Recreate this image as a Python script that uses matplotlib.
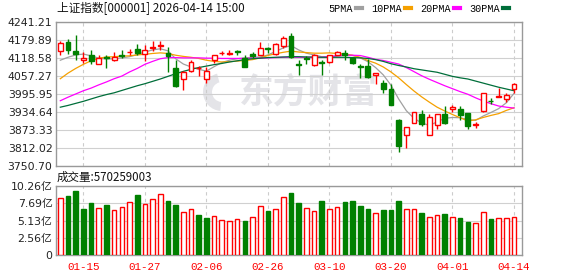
import numpy as np
import matplotlib
matplotlib.use("Agg")
import matplotlib.pyplot as plt
from matplotlib.lines import Line2D
from matplotlib.patches import Wedge

plt.rcParams['font.family'] = ['DejaVu Sans', 'Noto Sans CJK SC']

# daily K-line of 上证指数, 60 trading days up to 2026-04-14
opens = [4140.6, 4172.0, 4142.9, 4111.5, 4127.2, 4098.0, 4120.5, 4109.2, 4127.2, 4137.3,
         4149.6, 4131.7, 4151.9, 4159.7, 4135.0, 4084.6, 4047.5, 4073.3, 4082.4, 4045.3,
         4110.3, 4133.0, 4130.5, 4140.6, 4118.2, 4132.8, 4129.4, 4151.9, 4132.8, 4157.5,
         4191.1, 4095.8, 4116.0, 4093.5, 4103.6, 4103.6, 4127.2, 4136.1, 4115.9, 4091.3,
         4090.2, 4059.9, 4034.1, 4010.4, 3907.5, 3855.8, 3896.2, 3927.7, 3855.8, 3889.5,
         3927.7, 3943.4, 3944.5, 3931.0, 3889.5, 3936.7, 3972.6, 3986.0, 3977.1, 4010.8]
closes = [4168.7, 4144.0, 4131.7, 4115.9, 4107.0, 4118.2, 4117.1, 4120.5, 4125.0, 4139.5,
          4135.0, 4145.1, 4154.1, 4161.9, 4123.8, 4020.6, 4071.1, 4103.6, 4084.6, 4073.3,
          4127.2, 4135.0, 4136.0, 4139.5, 4088.0, 4122.7, 4151.9, 4149.6, 4165.3, 4185.5,
          4120.5, 4093.5, 4113.7, 4129.4, 4101.4, 4127.2, 4138.4, 4129.4, 4099.1, 4088.0,
          4053.2, 4066.6, 4011.6, 3959.0, 3817.6, 3882.8, 3933.3, 3894.0, 3916.5, 3926.6,
          3895.1, 3950.1, 3922.1, 3885.0, 3894.0, 3997.3, 3970.6, 3988.2, 3991.6, 4028.8]
highs = [4174.3, 4182.1, 4196.7, 4137.3, 4144.0, 4129.4, 4129.4, 4138.4, 4144.0, 4149.6,
         4166.4, 4160.8, 4174.3, 4174.3, 4155.2, 4109.2, 4073.3, 4109.2, 4090.2, 4087.9,
         4129.4, 4140.6, 4145.1, 4144.0, 4127.2, 4137.3, 4172.0, 4154.1, 4168.7, 4191.1,
         4202.3, 4110.3, 4123.8, 4131.7, 4109.2, 4129.4, 4140.6, 4144.0, 4120.5, 4098.0,
         4112.6, 4066.6, 4041.9, 4030.0, 3910.8, 3882.8, 3933.3, 3941.2, 3927.7, 3927.7,
         3952.4, 3958.0, 3952.4, 3931.0, 3899.6, 3997.3, 3982.7, 4014.2, 3997.3, 4031.0]
lows = [4127.2, 4131.7, 4109.2, 4101.4, 4095.8, 4095.8, 4084.6, 4107.0, 4118.2, 4129.4,
        4129.4, 4107.0, 4142.9, 4146.2, 4071.1, 4017.3, 4008.3, 4070.0, 4056.6, 4034.1,
        4101.4, 4126.1, 4126.1, 4129.4, 4085.7, 4118.2, 4127.2, 4135.0, 4129.4, 4151.9,
        4118.2, 4059.9, 4095.8, 4090.2, 4059.9, 4101.4, 4126.1, 4110.3, 4095.8, 4050.9,
        4050.9, 4028.5, 3997.1, 3957.0, 3797.4, 3810.9, 3896.2, 3885.0, 3855.8, 3877.2,
        3894.0, 3932.2, 3907.5, 3876.0, 3879.4, 3932.2, 3960.2, 3983.8, 3969.2, 3997.3]
# volume in 亿
volumes = [8.43, 8.77, 9.52, 6.84, 7.73, 6.94, 7.44, 6.64, 7.09, 7.83,
           8.92, 7.58, 8.28, 9.02, 8.03, 7.44, 6.34, 6.79, 5.95, 5.50,
           5.75, 5.16, 5.01, 5.30, 5.06, 5.60, 7.24, 6.54, 6.79, 8.58,
           9.22, 7.73, 6.94, 6.49, 8.03, 6.79, 7.09, 7.88, 8.03, 7.29,
           6.84, 6.20, 6.69, 6.69, 8.03, 6.79, 6.79, 6.25, 5.60, 5.90,
           6.10, 5.60, 5.50, 4.91, 4.71, 6.34, 5.35, 5.45, 5.45, 5.70]
ma5 = [4110, 4120, 4128, 4131, 4125, 4117, 4114, 4115, 4118, 4122,
       4129, 4138, 4145, 4149, 4142, 4115, 4097, 4087, 4079, 4073,
       4088, 4102, 4110, 4115, 4118, 4120, 4121, 4128, 4140, 4152,
       4160, 4145, 4134, 4128, 4122, 4121, 4124, 4129, 4126, 4118,
       4105, 4085, 4060, 4025, 3978, 3938, 3912, 3896, 3888, 3900,
       3912, 3915, 3914, 3908, 3905, 3920, 3932, 3945, 3965, 3997]
ma10 = [4047, 4066, 4082, 4096, 4108, 4117, 4121, 4122, 4124, 4125,
        4128, 4130, 4133, 4135, 4133, 4127, 4123, 4120, 4116, 4110,
        4106, 4104, 4105, 4107, 4109, 4112, 4118, 4126, 4132, 4137,
        4141, 4138, 4136, 4134, 4134, 4135, 4133, 4131, 4127, 4120,
        4109, 4100, 4087, 4070, 4050, 4027, 4005, 3985, 3967, 3950,
        3937, 3925, 3914, 3903, 3907, 3915, 3922, 3928, 3939, 3948]
ma20 = [3972, 3984, 3995, 4006, 4015, 4026, 4036, 4047, 4056, 4070,
        4082, 4096, 4106, 4115, 4119, 4119, 4118, 4118, 4118, 4117,
        4117, 4116, 4116, 4116, 4116, 4117, 4117, 4118, 4119, 4120,
        4120, 4120, 4120, 4119, 4120, 4123, 4125, 4127, 4127, 4126,
        4120, 4113, 4109, 4103, 4097, 4085, 4071, 4057, 4045, 4034,
        4023, 4013, 4003, 3994, 3982, 3971, 3962, 3954, 3950, 3947]
ma30 = [3950, 3956, 3963, 3970, 3978, 3986, 3993, 3999, 4007, 4015,
        4023, 4030, 4038, 4046, 4055, 4064, 4072, 4079, 4085, 4090,
        4095, 4099, 4104, 4108, 4112, 4115, 4117, 4119, 4120, 4121,
        4122, 4122, 4121, 4121, 4120, 4120, 4120, 4120, 4119, 4118,
        4116, 4112, 4106, 4098, 4092, 4087, 4081, 4077, 4073, 4069,
        4062, 4055, 4050, 4046, 4039, 4032, 4025, 4018, 4012, 4006]

date_ticks = [3, 11, 19, 27, 35, 43, 51, 59]
date_labels = ["01-15", "01-27", "02-06", "02-26", "03-10", "03-20", "04-01", "04-14"]
price_ticks = [3750.70, 3812.02, 3873.33, 3934.64, 3995.95, 4057.27, 4118.58, 4179.89, 4241.21]
vol_ticks = [0, 2.56, 5.13, 7.69, 10.26]
last_volume = 570259003

RED, GREEN = "#ff0000", "#008000"
MA_COLORS = ["#a0a0a0", "#f5a000", "#ff00ff", "#006e3a"]

W, H = 578, 276
fig = plt.figure(figsize=(W / 100, H / 100), dpi=100)
ax = fig.add_axes([56 / W, 1 - 165.7 / H, 466 / W, 144 / H])
axv = fig.add_axes([56 / W, 1 - 255 / H, 466 / W, 69 / H])

x = np.arange(len(closes))
o, c, h, l = map(np.array, (opens, closes, highs, lows))
up = c >= o

# candles
ax.vlines(x, l, h, colors=np.where(up, RED, GREEN), lw=1.0, zorder=3)
body_lo = np.minimum(o, c)
body_h = np.maximum(np.abs(c - o), 0.8)
ax.bar(x[up], body_h[up], bottom=body_lo[up], width=0.64, facecolor="white",
       edgecolor=RED, lw=1.0, zorder=4)
ax.bar(x[~up], body_h[~up], bottom=body_lo[~up], width=0.64, facecolor=GREEN,
       edgecolor=GREEN, lw=1.0, zorder=4)

for ma, col in zip([ma5, ma10, ma20, ma30], MA_COLORS):
    ax.plot(x, ma, color=col, lw=0.9, zorder=2)

# volume coloured by change against previous close
vol_up = np.concatenate([[True], np.diff(c) >= 0])
v = np.array(volumes)
axv.bar(x[vol_up], v[vol_up], width=0.6, facecolor="white", edgecolor=RED, lw=1.0, zorder=3)
axv.bar(x[~vol_up], v[~vol_up], width=0.6, facecolor=GREEN, edgecolor=GREEN, lw=1.0, zorder=3)

for a in (ax, axv):
    a.set_xlim(-0.56, 60.04)
    a.set_xticks(date_ticks)
    a.grid(axis="x", color="#cccccc", ls=(0, (3, 3)), lw=0.8, zorder=0)
    a.grid(axis="y", color="#d0d0d0", ls="-", lw=0.8, zorder=0)
    for s in a.spines.values():
        s.set_color("#999999")
        s.set_linewidth(1.0)
    a.tick_params(length=0, pad=2.5, labelsize=7.8, labelcolor="#222222")

ax.set_ylim(price_ticks[0], price_ticks[-1])
ax.set_yticks(price_ticks)
ax.set_yticklabels([f"{t:.2f}" for t in price_ticks])
ax.set_xticklabels([])

axv.set_ylim(0, vol_ticks[-1])
axv.set_yticks(vol_ticks)
axv.set_yticklabels(["0"] + [f"{t:.2f}亿" for t in vol_ticks[1:]])
axv.set_xticklabels(date_labels, family="Liberation Mono", fontsize=7.8, color=RED)
axv.tick_params(axis="x", pad=5)

# watermark
ax.text(308 / W, 1 - 92 / H, "东方财富", transform=fig.transFigure, ha="center",
        va="center", fontsize=25, fontweight="bold", color="#e4e4e8",
        family="Noto Sans CJK SC", zorder=1)
ax.add_patch(Wedge((2.22, (H - 92) / 100), 0.19, 105, 265, width=0.09,
                   transform=fig.dpi_scale_trans, color="#e4e4e8", lw=0, zorder=1))

fig.text(57 / W, 1 - 8.5 / H, "上证指数[000001] 2026-04-14 15:00", fontsize=8.4,
         va="center", ha="left", family=["Noto Sans CJK SC"], color="#111111")
fig.text(57 / W, 1 - 177 / H, f"成交量:{last_volume}", fontsize=8.3,
         va="center", ha="left", family=["Noto Sans CJK SC"], color="#111111")

handles = [Line2D([], [], color=col, lw=3) for col in MA_COLORS]
fig.legend(handles, ["5PMA", "10PMA", "20PMA", "30PMA"], ncol=4, loc="center right",
           bbox_to_anchor=(514 / W, 1 - 8.5 / H), frameon=False, markerfirst=False,
           handlelength=0.6, handletextpad=0.3, columnspacing=0.9, borderpad=0,
           prop={"family": "Liberation Mono", "size": 7.3})

fig.savefig("out.png", dpi=100)
